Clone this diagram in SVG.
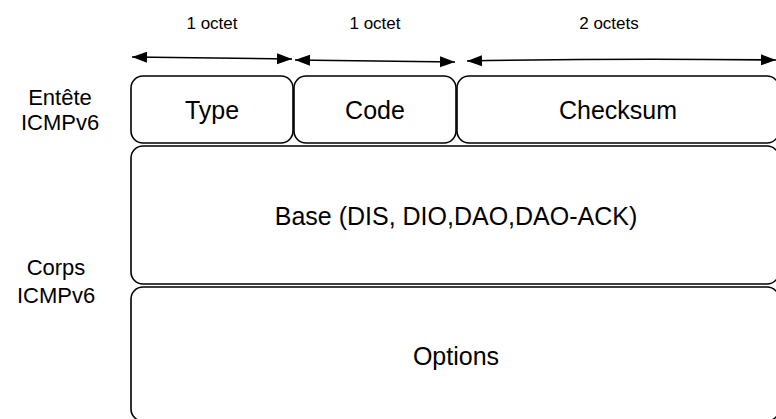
<svg xmlns="http://www.w3.org/2000/svg" width="776" height="419" viewBox="0 0 776 419">
<style>
.box{fill:#fff;stroke:#000;stroke-width:1.6}
.t{font-family:"Liberation Sans",Arial,sans-serif;fill:#000;text-anchor:middle}
.lbl{font-size:22px}
.oct{font-size:17px}
.in{font-size:25px}
.arr{stroke:#000;stroke-width:1.6;fill:none;marker-start:url(#hs);marker-end:url(#he)}
</style>
<defs>
<marker id="he" markerUnits="userSpaceOnUse" markerWidth="16" markerHeight="12" refX="15" refY="5.5" orient="auto"><path d="M0,0 L15,5.5 L0,11 Z" fill="#000"/></marker>
<marker id="hs" markerUnits="userSpaceOnUse" markerWidth="16" markerHeight="12" refX="0" refY="5.5" orient="auto"><path d="M15,0 L0,5.5 L15,11 Z" fill="#000"/></marker>
</defs>
<rect width="776" height="419" fill="#fff"/>
<g id="connectors">
<line class="arr" x1="132" y1="57" x2="292" y2="59"/>
<line class="arr" x1="295" y1="60" x2="455" y2="62"/>
<path class="arr" d="M467,61 Q620,58 776,60"/>
</g>
<g id="labels">
<text class="t oct" x="212" y="29">1 octet</text>
<text class="t oct" x="375" y="29">1 octet</text>
<text class="t oct" x="609" y="29">2 octets</text>
<text class="t lbl" x="60" y="105">Entête</text>
<text class="t lbl" x="60" y="130">ICMPv6</text>
<text class="t lbl" x="56" y="275">Corps</text>
<text class="t lbl" x="56" y="303">ICMPv6</text>
</g>
<g id="type"><rect class="box" x="131" y="76" width="162" height="67" rx="12"/><text class="t in" x="212" y="119">Type</text></g>
<g id="code"><rect class="box" x="294" y="76" width="162" height="67" rx="12"/><text class="t in" x="375" y="119">Code</text></g>
<g id="checksum"><rect class="box" x="457" y="76" width="322" height="67" rx="12"/><text class="t in" x="618" y="119">Checksum</text></g>
<g id="base"><rect class="box" x="131" y="146" width="648" height="138" rx="12"/><text class="t in" x="456" y="225">Base (DIS, DIO,DAO,DAO-ACK)</text></g>
<g id="options"><rect class="box" x="131" y="287" width="648" height="134" rx="12"/><text class="t in" x="456" y="365">Options</text></g>
</svg>
